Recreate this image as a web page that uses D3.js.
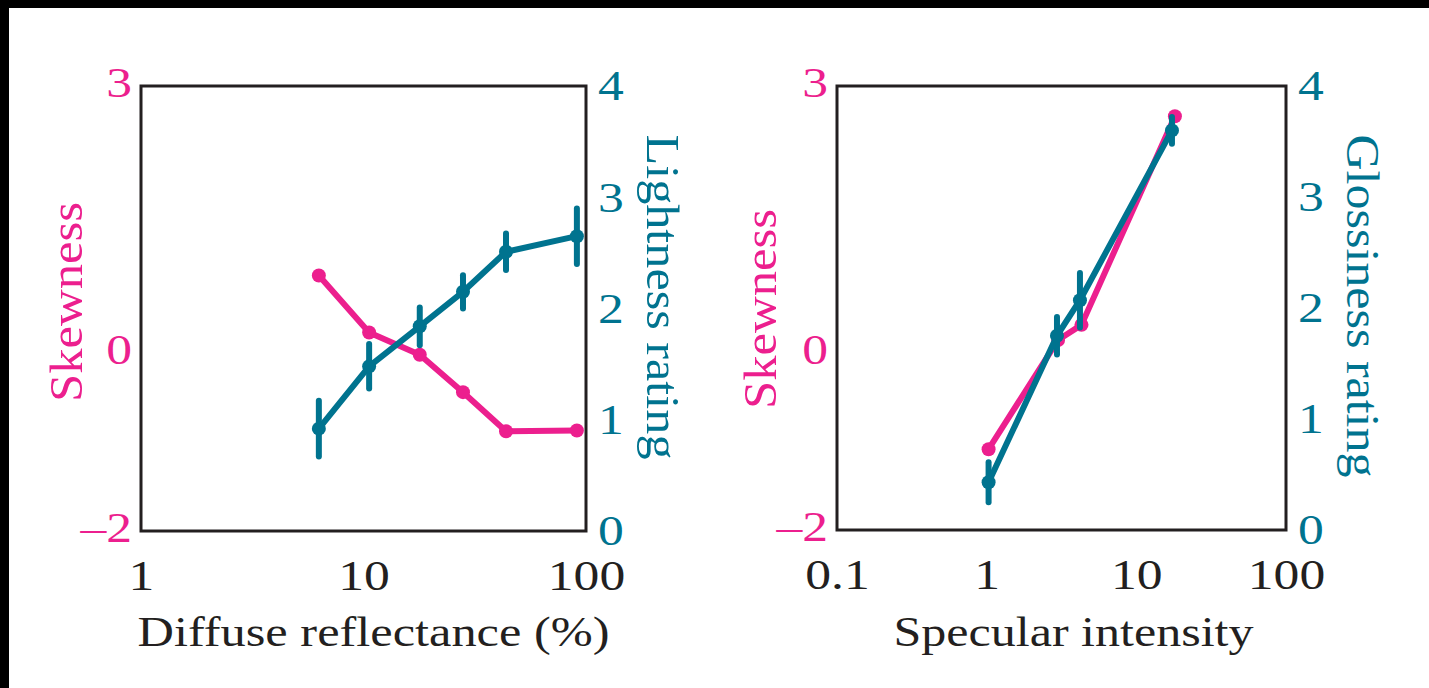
<!DOCTYPE html>
<html>
<head>
<meta charset="utf-8">
<script src="https://cdn.jsdelivr.net/npm/d3@7/dist/d3.min.js"></script>
<style>
  html, body { margin: 0; padding: 0; background: #fff; }
  svg { display: block; }
  text { font-family: "Liberation Serif", "Times New Roman", serif; }
</style>
</head>
<body>
<div id="chart"></div>
<script>
var PINK = '#ec1f8e';
var TEAL = '#00738f';
var INK = '#231f20';

// left panel: diffuse reflectance
var diffuseX = [6.3, 10.6, 17.9, 28, 43.7, 91];
var diffuseSkew = [0.87, 0.23, -0.02, -0.44, -0.88, -0.87];
var lightness = [0.92, 1.48, 1.84, 2.15, 2.51, 2.65];
var lightnessErr = [0.25, 0.2, 0.17, 0.15, 0.165, 0.25];

// right panel: specular intensity
var specSkewX = [1.03, 3.0, 4.3, 18.1];
var specSkew = [-1.09, 0.14, 0.31, 2.66];
var specGlossX = [1.03, 2.95, 4.2, 17.3];
var gloss = [0.43, 1.75, 2.07, 3.6];
var glossErr = [0.18, 0.17, 0.245, 0.12];

var skewTicks = [-2, 0, 3];
var ratingTicks = [0, 1, 2, 3, 4];
var diffuseTicks = [1, 10, 100];
var specTicks = [0.1, 1, 10, 100];

var W = 1429, H = 688;

var svg = d3.select('#chart').append('svg')
	.attr('width', W)
	.attr('height', H);

// black frame remnants at top and left edges
svg.append('rect').attr('x', 0).attr('y', 0).attr('width', W).attr('height', 8).attr('fill', '#000');
svg.append('rect').attr('x', 0).attr('y', 0).attr('width', 9).attr('height', H).attr('fill', '#000');

drawPanel({
	left: 141, right: 586, top: 86, bottom: 531,
	xDomain: [1, 100], xTicks: diffuseTicks,
	xTitle: 'Diffuse reflectance (%)', xTitleLen: 472, xTitleShift: 10,
	rightTitle: 'Lightness rating', rightTitleLen: 325, rightTitleX: 663, rightTitleY: 297,
	leftTitleX: 66, leftTitleY: 302,
	skewX: diffuseX, skew: diffuseSkew,
	rateX: diffuseX, rate: lightness, rateErr: lightnessErr
});

drawPanel({
	left: 837, right: 1286, top: 86, bottom: 530,
	xDomain: [0.1, 100], xTicks: specTicks,
	xTitle: 'Specular intensity', xTitleLen: 360, xTitleShift: 12,
	rightTitle: 'Glossiness rating', rightTitleLen: 343, rightTitleX: 1363, rightTitleY: 306,
	leftTitleX: 760, leftTitleY: 309,
	skewX: specSkewX, skew: specSkew,
	rateX: specGlossX, rate: gloss, rateErr: glossErr
});

// the figure's lettering is a little wider than Times
function widen(sel, k) {
	sel.each(function () {
		var l = this.getComputedTextLength();
		d3.select(this).attr('textLength', l * k).attr('lengthAdjust', 'spacingAndGlyphs');
	});
}

function drawPanel(p) {
	var g = svg.append('g');

	var x = d3.scaleLog().domain(p.xDomain).range([p.left, p.right]);
	var yL = d3.scaleLinear().domain([-2, 3]).range([p.bottom, p.top]);
	var yR = d3.scaleLinear().domain([0, 4]).range([p.bottom, p.top]);

	// axes (labels only, the frame is drawn as a box)
	var xAxis = g.append('g')
		.attr('transform', 'translate(0,' + p.bottom + ')')
		.call(d3.axisBottom(x).tickValues(p.xTicks).tickSize(0).tickPadding(28)
			.tickFormat(function (d) { return d < 1 ? '0.1' : String(d); }));

	var lAxis = g.append('g')
		.attr('transform', 'translate(' + p.left + ',0)')
		.call(d3.axisLeft(yL).tickValues(skewTicks).tickSize(0).tickPadding(9)
			.tickFormat(function (d) { return d < 0 ? '\u2013' + Math.abs(d) : String(d); }));

	var rAxis = g.append('g')
		.attr('transform', 'translate(' + p.right + ',0)')
		.call(d3.axisRight(yR).tickValues(ratingTicks).tickSize(0).tickPadding(12)
			.tickFormat(d3.format('d')));

	[xAxis, lAxis, rAxis].forEach(function (a) {
		a.select('.domain').remove();
		a.selectAll('text').attr('font-family', null).attr('font-size', 43);
		widen(a.selectAll('text'), 1.2);
	});
	xAxis.selectAll('text').attr('fill', INK);
	lAxis.selectAll('text').attr('fill', PINK).attr('dy', '0.25em');
	rAxis.selectAll('text').attr('fill', TEAL);

	// box
	g.append('rect')
		.attr('x', p.left).attr('y', p.top)
		.attr('width', p.right - p.left).attr('height', p.bottom - p.top)
		.attr('fill', 'none').attr('stroke', INK).attr('stroke-width', 3);

	// titles
	g.append('text')
		.attr('x', (p.left + p.right) / 2 + p.xTitleShift)
		.attr('y', 646)
		.attr('text-anchor', 'middle')
		.attr('font-size', 43)
		.attr('fill', INK)
		.attr('textLength', p.xTitleLen)
		.attr('lengthAdjust', 'spacingAndGlyphs')
		.text(p.xTitle);

	g.append('text')
		.attr('transform', 'translate(' + (p.leftTitleX + 16) + ',' + p.leftTitleY + ') rotate(-90)')
		.attr('text-anchor', 'middle')
		.attr('font-size', 46)
		.attr('fill', PINK)
		.attr('textLength', 200)
		.attr('lengthAdjust', 'spacingAndGlyphs')
		.text('Skewness');

	g.append('text')
		.attr('transform', 'translate(' + (p.rightTitleX - 16) + ',' + p.rightTitleY + ') rotate(90)')
		.attr('text-anchor', 'middle')
		.attr('font-size', 46)
		.attr('fill', TEAL)
		.attr('textLength', p.rightTitleLen)
		.attr('lengthAdjust', 'spacingAndGlyphs')
		.text(p.rightTitle);

	// skewness series
	var skewData = p.skewX.map(function (v, i) { return { x: v, y: p.skew[i] }; });
	var rateData = p.rateX.map(function (v, i) { return { x: v, y: p.rate[i], e: p.rateErr[i] }; });

	g.append('path')
		.datum(skewData)
		.attr('fill', 'none')
		.attr('stroke', PINK)
		.attr('stroke-width', 6)
		.attr('stroke-linejoin', 'round')
		.attr('d', d3.line().x(function (d) { return x(d.x); }).y(function (d) { return yL(d.y); }));

	g.selectAll('.skewDot')
		.data(skewData)
		.enter().append('circle')
		.attr('class', 'skewDot')
		.attr('cx', function (d) { return x(d.x); })
		.attr('cy', function (d) { return yL(d.y); })
		.attr('r', 7)
		.attr('fill', PINK);

	// rating series with error bars
	g.selectAll('.err')
		.data(rateData)
		.enter().append('line')
		.attr('class', 'err')
		.attr('x1', function (d) { return x(d.x); })
		.attr('x2', function (d) { return x(d.x); })
		.attr('y1', function (d) { return yR(d.y - d.e); })
		.attr('y2', function (d) { return yR(d.y + d.e); })
		.attr('stroke', TEAL)
		.attr('stroke-width', 6)
		.attr('stroke-linecap', 'round');

	g.append('path')
		.datum(rateData)
		.attr('fill', 'none')
		.attr('stroke', TEAL)
		.attr('stroke-width', 6)
		.attr('stroke-linejoin', 'round')
		.attr('d', d3.line().x(function (d) { return x(d.x); }).y(function (d) { return yR(d.y); }));

	g.selectAll('.rateDot')
		.data(rateData)
		.enter().append('circle')
		.attr('class', 'rateDot')
		.attr('cx', function (d) { return x(d.x); })
		.attr('cy', function (d) { return yR(d.y); })
		.attr('r', 7)
		.attr('fill', TEAL);
}
</script>
</body>
</html>
